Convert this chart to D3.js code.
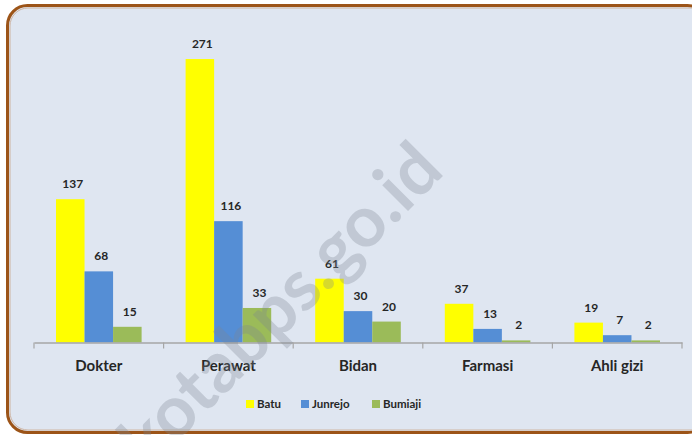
<!DOCTYPE html>
<html>
<head>
<meta charset="utf-8">
<script src="https://cdn.jsdelivr.net/npm/d3@7"></script>
<style>
  html, body { margin: 0; padding: 0; background: #ffffff; }
  svg { display: block; }
  text { font-family: Lato, "Open Sans", sans-serif; font-weight: bold; fill: #262626; }
</style>
</head>
<body>
<svg id="chart" width="692" height="435"></svg>
<script>
const categories = ["Dokter", "Perawat", "Bidan", "Farmasi", "Ahli gizi"];
const seriesNames = ["Batu", "Junrejo", "Bumiaji"];
const batu = [137, 271, 61, 37, 19];
const junrejo = [68, 116, 30, 13, 7];
const bumiaji = [15, 33, 20, 2, 2];
const seriesColors = ["#ffff00", "#558ed5", "#9bbb59"];
const watermark = "kotabps.go.id";

const seriesValues = [batu, junrejo, bumiaji];
const svg = d3.select("#chart");

// frame
svg.append("rect").attr("x", 7.5).attr("y", 5.5).attr("width", 700).attr("height", 427)
  .attr("rx", 20).attr("ry", 20)
  .attr("fill", "#dfe6f1").attr("stroke", "#9c5418").attr("stroke-width", 3);
svg.append("rect").attr("x", 10).attr("y", 8).attr("width", 700).attr("height", 422)
  .attr("rx", 18).attr("ry", 18)
  .attr("fill", "none").attr("stroke", "#c9a890").attr("stroke-width", 0.8);

const x0 = d3.scaleBand().domain(categories).range([34, 682]);
const gap = 22;
const x1 = d3.scaleBand().domain(seriesNames).range([gap, x0.bandwidth() - gap]);
const y = d3.scaleLinear().domain([0, 300]).range([342.5, 28.7]);

// bars
const groups = svg.append("g").selectAll("g").data(categories).join("g")
  .attr("transform", d => `translate(${x0(d)},0)`);
groups.selectAll("rect").data((c, i) => seriesNames.map((s, j) => ({ s, v: seriesValues[j][i], j })))
  .join("rect")
  .attr("x", d => x1(d.s)).attr("width", x1.bandwidth())
  .attr("y", d => y(d.v)).attr("height", d => y(0) - y(d.v))
  .attr("fill", d => seriesColors[d.j]);
groups.selectAll("text").data((c, i) => seriesNames.map((s, j) => ({ s, v: seriesValues[j][i], j })))
  .join("text")
  .attr("x", d => x1(d.s) + x1.bandwidth() / 2 + 2.5)
  .attr("y", d => y(d.v) - 11)
  .attr("text-anchor", "middle").attr("font-size", 12)
  .text(d => d.v);

// axis
const axis = svg.append("g").attr("transform", `translate(0,${y(0)})`)
  .call(d3.axisBottom(x0).tickSize(0).tickFormat(""));
axis.select(".domain").attr("stroke", "#a6a6a6").attr("stroke-width", 1.5);
const tickPos = categories.map(c => x0(c)).concat([x0.range()[1]]);
svg.append("g").selectAll("line").data(tickPos).join("line")
  .attr("x1", d => d).attr("x2", d => d)
  .attr("y1", y(0)).attr("y2", y(0) + 6)
  .attr("stroke", "#a6a6a6").attr("stroke-width", 1.2);
svg.append("g").selectAll("text").data(categories).join("text")
  .attr("x", d => x0(d) + x0.bandwidth() / 2)
  .attr("y", 370.5)
  .attr("text-anchor", "middle").attr("font-size", 15)
  .text(d => d);

// legend
const legendX = [246, 301, 372];
const legend = svg.append("g").selectAll("g").data(seriesNames).join("g")
  .attr("transform", (d, i) => `translate(${legendX[i]},400)`);
legend.append("rect").attr("width", 8).attr("height", 8).attr("fill", (d, i) => seriesColors[i]);
legend.append("text").attr("x", 11).attr("y", 8.3).attr("font-size", 11.5).text(d => d);

// watermark
svg.append("text")
  .attr("transform", "translate(149,470) rotate(-45)")
  .attr("font-size", 71).attr("font-family", "Lato, sans-serif").attr("font-weight", "bold")
  .style("fill", "#7d8692").attr("opacity", 0.3)
  .text(watermark);
</script>
</body>
</html>
